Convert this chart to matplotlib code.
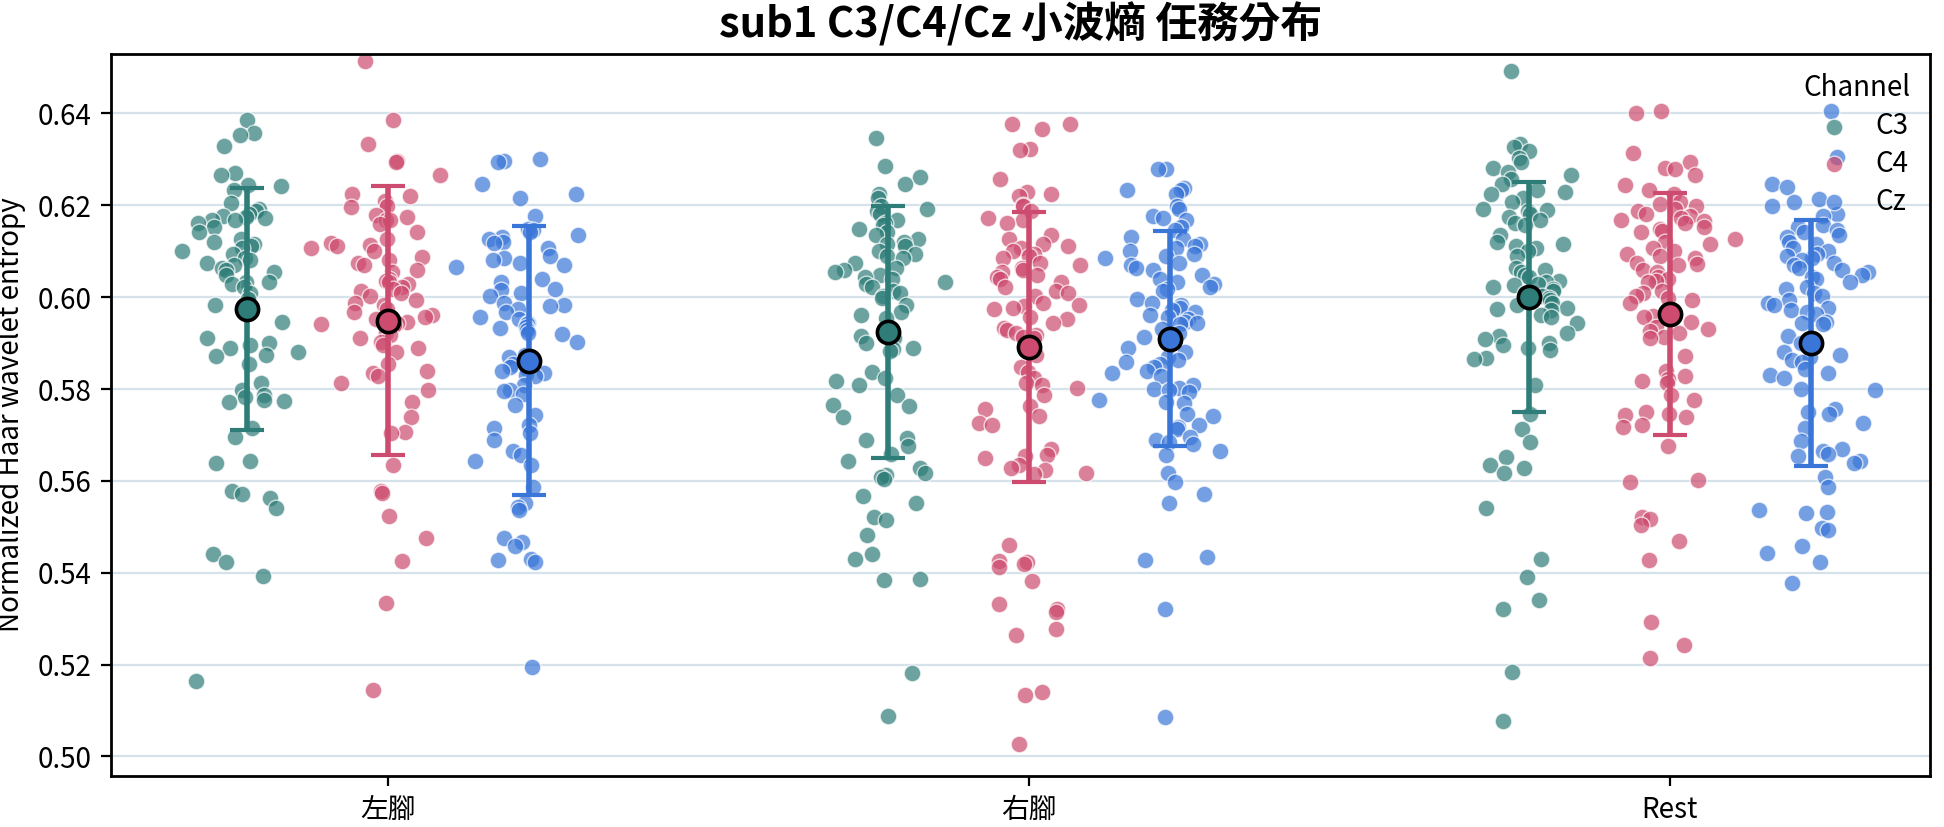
import numpy as np
import matplotlib.pyplot as plt

plt.rcParams['font.family'] = ['Noto Sans CJK TC', 'DejaVu Sans']

tasks = ['左腳', '右腳', 'Rest']
channels = ['C3', 'C4', 'Cz']
colors = {'C3': '#2e7d78', 'C4': '#cd4b6e', 'Cz': '#3a76d8'}

# 每個任務 / 通道的小波熵
left_c3 = [0.6385, 0.6357, 0.6354, 0.6329, 0.6270, 0.6265, 0.6244, 0.6242, 0.6234, 0.6204,
           0.6193, 0.6188, 0.6182, 0.6177, 0.6175, 0.6172, 0.6169, 0.6167, 0.6162, 0.6152,
           0.6141, 0.6126, 0.6121, 0.6116, 0.6111, 0.6106, 0.6100, 0.6095, 0.6085, 0.6080,
           0.6075, 0.6069, 0.6064, 0.6059, 0.6054, 0.6049, 0.6034, 0.6032, 0.6028, 0.6023,
           0.6008, 0.5995, 0.5982, 0.5977, 0.5947, 0.5911, 0.5900, 0.5895, 0.5890, 0.5880,
           0.5875, 0.5872, 0.5854, 0.5813, 0.5798, 0.5787, 0.5782, 0.5777, 0.5775, 0.5772,
           0.5716, 0.5695, 0.5644, 0.5639, 0.5577, 0.5572, 0.5562, 0.5541, 0.5441, 0.5423,
           0.5392, 0.5165]
left_c4 = [0.6514, 0.6386, 0.6334, 0.6297, 0.6294, 0.6265, 0.6224, 0.6220, 0.6210, 0.6198,
           0.6196, 0.6179, 0.6175, 0.6169, 0.6167, 0.6159, 0.6141, 0.6126, 0.6118, 0.6114,
           0.6111, 0.6106, 0.6100, 0.6087, 0.6080, 0.6075, 0.6069, 0.6059, 0.6054, 0.6039,
           0.6036, 0.6034, 0.6028, 0.6023, 0.6018, 0.6013, 0.6008, 0.6003, 0.5993, 0.5988,
           0.5982, 0.5974, 0.5967, 0.5962, 0.5957, 0.5952, 0.5947, 0.5944, 0.5941, 0.5939,
           0.5923, 0.5918, 0.5911, 0.5902, 0.5895, 0.5890, 0.5880, 0.5854, 0.5839, 0.5834,
           0.5829, 0.5813, 0.5798, 0.5772, 0.5738, 0.5707, 0.5705, 0.5634, 0.5579, 0.5574,
           0.5523, 0.5475, 0.5426, 0.5334, 0.5144]
left_cz = [0.6300, 0.6297, 0.6294, 0.6247, 0.6224, 0.6215, 0.6177, 0.6149, 0.6147, 0.6141,
           0.6136, 0.6131, 0.6126, 0.6121, 0.6118, 0.6106, 0.6090, 0.6085, 0.6080, 0.6075,
           0.6069, 0.6066, 0.6039, 0.6034, 0.6018, 0.6015, 0.6008, 0.6003, 0.5988, 0.5982,
           0.5980, 0.5974, 0.5967, 0.5957, 0.5952, 0.5944, 0.5941, 0.5936, 0.5933, 0.5929,
           0.5921, 0.5919, 0.5902, 0.5875, 0.5870, 0.5859, 0.5854, 0.5849, 0.5844, 0.5839,
           0.5834, 0.5831, 0.5829, 0.5808, 0.5798, 0.5796, 0.5790, 0.5765, 0.5744, 0.5721,
           0.5716, 0.5705, 0.5690, 0.5664, 0.5657, 0.5644, 0.5634, 0.5587, 0.5551, 0.5543,
           0.5536, 0.5475, 0.5466, 0.5459, 0.5430, 0.5428, 0.5423, 0.5195]
right_c3 = [0.6347, 0.6285, 0.6262, 0.6247, 0.6224, 0.6216, 0.6198, 0.6193, 0.6188, 0.6182,
            0.6167, 0.6162, 0.6157, 0.6149, 0.6141, 0.6136, 0.6126, 0.6121, 0.6116, 0.6111,
            0.6100, 0.6095, 0.6090, 0.6085, 0.6075, 0.6064, 0.6059, 0.6054, 0.6049, 0.6044,
            0.6039, 0.6034, 0.6028, 0.6023, 0.6013, 0.6008, 0.6003, 0.5998, 0.5982, 0.5967,
            0.5962, 0.5954, 0.5923, 0.5916, 0.5911, 0.5900, 0.5890, 0.5888, 0.5882, 0.5836,
            0.5823, 0.5818, 0.5808, 0.5787, 0.5765, 0.5762, 0.5738, 0.5693, 0.5690, 0.5675,
            0.5659, 0.5644, 0.5628, 0.5618, 0.5613, 0.5608, 0.5605, 0.5567, 0.5551, 0.5521,
            0.5515, 0.5482, 0.5441, 0.5430, 0.5387, 0.5385, 0.5182, 0.5088]
right_c4 = [0.6377, 0.6377, 0.6367, 0.6323, 0.6321, 0.6257, 0.6229, 0.6224, 0.6220, 0.6200,
            0.6198, 0.6188, 0.6172, 0.6169, 0.6162, 0.6136, 0.6126, 0.6116, 0.6111, 0.6106,
            0.6100, 0.6095, 0.6090, 0.6085, 0.6075, 0.6069, 0.6064, 0.6059, 0.6054, 0.6049,
            0.6044, 0.6039, 0.6034, 0.6023, 0.6013, 0.6008, 0.6003, 0.5988, 0.5982, 0.5980,
            0.5977, 0.5974, 0.5957, 0.5952, 0.5944, 0.5933, 0.5929, 0.5921, 0.5918, 0.5913,
            0.5911, 0.5875, 0.5848, 0.5836, 0.5823, 0.5813, 0.5808, 0.5803, 0.5787, 0.5762,
            0.5757, 0.5741, 0.5726, 0.5721, 0.5670, 0.5657, 0.5654, 0.5649, 0.5634, 0.5628,
            0.5623, 0.5618, 0.5616, 0.5461, 0.5426, 0.5423, 0.5420, 0.5413, 0.5382, 0.5331,
            0.5320, 0.5315, 0.5277, 0.5264, 0.5141, 0.5133, 0.5028]
right_cz = [0.6280, 0.6278, 0.6237, 0.6234, 0.6234, 0.6224, 0.6198, 0.6193, 0.6177, 0.6172,
            0.6169, 0.6152, 0.6147, 0.6131, 0.6126, 0.6116, 0.6111, 0.6106, 0.6100, 0.6095,
            0.6090, 0.6085, 0.6075, 0.6069, 0.6064, 0.6059, 0.6049, 0.6039, 0.6034, 0.6028,
            0.6023, 0.6018, 0.6013, 0.5995, 0.5988, 0.5982, 0.5977, 0.5972, 0.5967, 0.5962,
            0.5957, 0.5952, 0.5947, 0.5944, 0.5941, 0.5931, 0.5921, 0.5913, 0.5890, 0.5880,
            0.5870, 0.5864, 0.5859, 0.5854, 0.5849, 0.5839, 0.5834, 0.5829, 0.5808, 0.5803,
            0.5800, 0.5798, 0.5793, 0.5777, 0.5772, 0.5769, 0.5746, 0.5741, 0.5721, 0.5718,
            0.5714, 0.5695, 0.5690, 0.5685, 0.5680, 0.5664, 0.5657, 0.5618, 0.5598, 0.5572,
            0.5551, 0.5435, 0.5428, 0.5320, 0.5085]
rest_c3 = [0.6493, 0.6334, 0.6328, 0.6319, 0.6303, 0.6295, 0.6282, 0.6272, 0.6265, 0.6257,
           0.6247, 0.6234, 0.6229, 0.6224, 0.6216, 0.6208, 0.6193, 0.6190, 0.6188, 0.6182,
           0.6175, 0.6167, 0.6162, 0.6157, 0.6136, 0.6121, 0.6116, 0.6111, 0.6106, 0.6100,
           0.6090, 0.6064, 0.6059, 0.6054, 0.6049, 0.6044, 0.6036, 0.6034, 0.6028, 0.6026,
           0.6023, 0.6018, 0.6013, 0.6008, 0.6003, 0.5998, 0.5993, 0.5988, 0.5982, 0.5977,
           0.5974, 0.5972, 0.5962, 0.5957, 0.5944, 0.5923, 0.5916, 0.5909, 0.5900, 0.5895,
           0.5890, 0.5885, 0.5867, 0.5866, 0.5808, 0.5746, 0.5714, 0.5685, 0.5652, 0.5634,
           0.5628, 0.5618, 0.5541, 0.5430, 0.5390, 0.5341, 0.5320, 0.5184, 0.5077]
rest_c4 = [0.6406, 0.6400, 0.6313, 0.6295, 0.6282, 0.6278, 0.6265, 0.6244, 0.6234, 0.6224,
           0.6208, 0.6203, 0.6198, 0.6193, 0.6188, 0.6182, 0.6177, 0.6172, 0.6167, 0.6165,
           0.6162, 0.6152, 0.6149, 0.6145, 0.6141, 0.6126, 0.6121, 0.6116, 0.6106, 0.6100,
           0.6095, 0.6090, 0.6085, 0.6075, 0.6073, 0.6069, 0.6059, 0.6054, 0.6044, 0.6039,
           0.6036, 0.6034, 0.6013, 0.6008, 0.6003, 0.5998, 0.5993, 0.5988, 0.5967, 0.5960,
           0.5957, 0.5947, 0.5936, 0.5931, 0.5926, 0.5923, 0.5913, 0.5911, 0.5872, 0.5839,
           0.5829, 0.5821, 0.5818, 0.5813, 0.5787, 0.5777, 0.5751, 0.5746, 0.5744, 0.5738,
           0.5721, 0.5718, 0.5677, 0.5601, 0.5598, 0.5521, 0.5518, 0.5503, 0.5470, 0.5428,
           0.5293, 0.5243, 0.5215]
rest_cz = [0.6405, 0.6306, 0.6246, 0.6239, 0.6213, 0.6208, 0.6198, 0.6182, 0.6177, 0.6157,
           0.6152, 0.6147, 0.6141, 0.6136, 0.6131, 0.6121, 0.6116, 0.6106, 0.6100, 0.6095,
           0.6090, 0.6085, 0.6080, 0.6075, 0.6069, 0.6064, 0.6059, 0.6054, 0.6049, 0.6044,
           0.6039, 0.6034, 0.6023, 0.6018, 0.6008, 0.6003, 0.5993, 0.5988, 0.5982, 0.5977,
           0.5972, 0.5967, 0.5964, 0.5947, 0.5944, 0.5941, 0.5916, 0.5900, 0.5880, 0.5875,
           0.5870, 0.5864, 0.5859, 0.5844, 0.5834, 0.5831, 0.5823, 0.5800, 0.5798, 0.5757,
           0.5749, 0.5746, 0.5725, 0.5716, 0.5687, 0.5669, 0.5664, 0.5659, 0.5654, 0.5644,
           0.5639, 0.5608, 0.5587, 0.5536, 0.5533, 0.5531, 0.5497, 0.5492, 0.5459, 0.5444,
           0.5423, 0.5377]

# 平均值與標準差 (依任務順序)
mean_c3 = [0.5974, 0.5924, 0.6000]
mean_c4 = [0.5949, 0.5892, 0.5963]
mean_cz = [0.5862, 0.5910, 0.5901]
sd_c3 = [0.0264, 0.0275, 0.0251]
sd_c4 = [0.0293, 0.0294, 0.0264]
sd_cz = [0.0293, 0.0233, 0.0268]

values = {
    'C3': [left_c3, right_c3, rest_c3],
    'C4': [left_c4, right_c4, rest_c4],
    'Cz': [left_cz, right_cz, rest_cz],
}
means = {'C3': mean_c3, 'C4': mean_c4, 'Cz': mean_cz}
sds = {'C3': sd_c3, 'C4': sd_c4, 'Cz': sd_cz}

fig, ax = plt.subplots(figsize=(9.72, 4.135), dpi=200)
fig.subplots_adjust(left=0.057, right=0.993, top=0.935, bottom=0.062)

rng = np.random.default_rng(7)
offsets = [-0.22, 0.0, 0.22]

for j, ch in enumerate(channels):
    for i, task in enumerate(tasks):
        y = np.array(values[ch][i])
        x = i + offsets[j] + np.clip(rng.normal(0, 0.04, len(y)), -0.12, 0.12)
        ax.scatter(x, y, s=36, color=colors[ch], alpha=0.7, edgecolor='white',
                   linewidth=0.5, zorder=2, label=ch if i == 0 else None)
    xs = np.arange(len(tasks)) + offsets[j]
    ax.errorbar(xs, means[ch], yerr=sds[ch], fmt='none', ecolor=colors[ch],
                elinewidth=2, capsize=6, capthick=1.5, zorder=3)
    ax.plot(xs, means[ch], 'o', ms=8, mfc=colors[ch], mec='black', mew=1.3,
            zorder=4, linestyle='none')

ax.set_xticks(range(len(tasks)))
ax.set_xticklabels(tasks, fontsize=10)
ax.set_xlim(-0.432, 2.407)
ax.set_ylim(0.4958, 0.6530)
ax.set_yticks(np.arange(0.50, 0.641, 0.02))
ax.set_yticklabels([f'{v:.2f}' for v in np.arange(0.50, 0.641, 0.02)], fontsize=10)
ax.yaxis.grid(True, color='#d6e2ea', linewidth=0.8, zorder=0)
ax.set_axisbelow(True)
for sp in ax.spines.values():
    sp.set_linewidth(1.0)

ax.set_ylabel('Normalized Haar wavelet entropy', fontsize=10)
ax.set_title('sub1 C3/C4/Cz 小波熵 任務分布', fontsize=15, fontweight='bold', pad=6)

leg = ax.legend(title='Channel', loc='upper right', frameon=False, fontsize=10,
                title_fontsize=10, handletextpad=0.5, labelspacing=0.28,
                borderaxespad=0.3)

plt.savefig('out.png')
